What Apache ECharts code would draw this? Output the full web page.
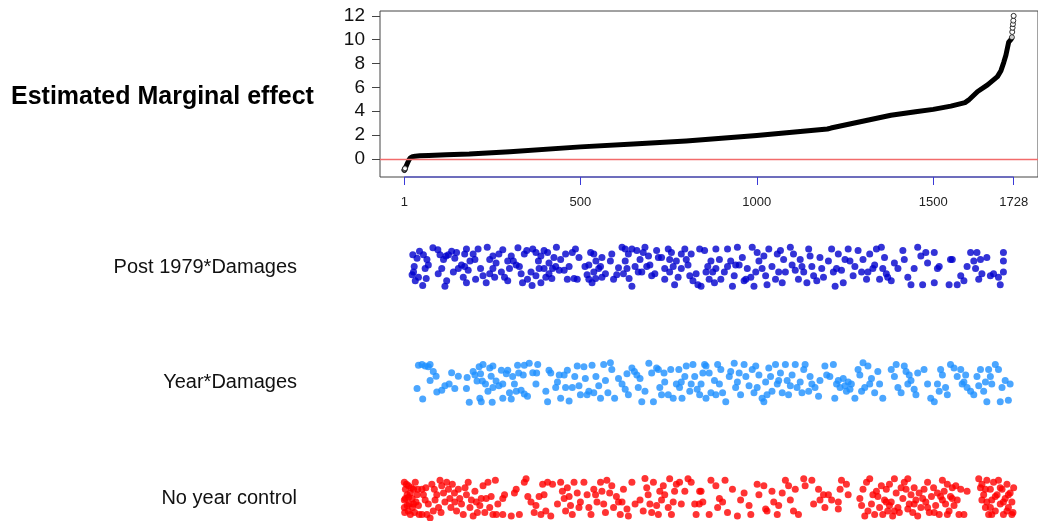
<!DOCTYPE html>
<html>
<head>
<meta charset="utf-8">
<script src="https://cdn.jsdelivr.net/npm/echarts@6/dist/echarts.min.js"></script>
<style>
  html, body { margin: 0; padding: 0; background: #fff; }
  #chart { width: 1038px; height: 521px; }
</style>
</head>
<body>
<div id="chart"></div>
<script>
  // sorted estimates (rank -> estimate)
  var curveRank = [1, 3, 6, 10, 14, 18, 24, 32, 45, 70, 120, 185, 300, 500, 650, 800, 900, 1000, 1100, 1200, 1210, 1300, 1380, 1450, 1500, 1550, 1590, 1600, 1626, 1654, 1682, 1692, 1700, 1706, 1714, 1720, 1722];
  var curveValue = [-0.95, -0.82, -0.62, -0.35, -0.1, 0.08, 0.18, 0.22, 0.25, 0.28, 0.33, 0.4, 0.6, 1.0, 1.25, 1.5, 1.72, 1.96, 2.22, 2.5, 2.58, 3.15, 3.65, 3.95, 4.15, 4.42, 4.72, 4.92, 5.65, 6.2, 6.9, 7.4, 8.1, 8.7, 9.8, 10.0, 10.1];
  // separate circles at both ends
  var endRank = [1, 2, 3, 1723, 1724, 1725, 1726, 1727, 1728];
  var endValue = [-0.95, -0.88, -0.8, 10.2, 10.65, 11.0, 11.3, 11.6, 12.0];

  var xTicks = [1, 500, 1000, 1500, 1728];
  var yTicks = [0, 2, 4, 6, 8, 10, 12];
  var rowNames = ['No year control', 'Year*Damages', 'Post 1979*Damages'];
  var rowColors = ['#ff0000', '#1e90ff', '#0000cd'];

  // [rank, jitter(-5..5)] for each indicator row
  var postDots = [
    [25,3.1],[37,2.2],[44,4.0],[29,0.1],[23,-2.0],[32,-3.5],[41,-2.6],[53,-4.7],[60,-0.4],[65,1.9],[69,0.5],[63,-2.9],[82,4.9],[96,4.4],[102,3.1],[112,1.9],[119,2.8],[97,-1.7],[107,-0.4],[116,-4.9],[121,-3.5],[126,3.1],[135,4.0],[144,2.2],[149,3.7],[140,-1.3],[154,-0.4],[163,0.5],[172,0.1],[168,-2.6],[177,-4.0],[177,4.6],[187,1.5],[196,3.3],[201,1.9],[210,4.6],[203,-3.1],[217,-0.4],[224,-2.2],[236,5.0],[243,1.9],[233,-4.0],[243,-1.7],[252,-0.4],[261,1.0],[269,3.3],[257,-2.6],[276,-1.3],[285,-2.6],[294,-3.5],[299,-0.4],[280,4.4],[304,2.8],[310,1.5],[318,0.5],[323,4.9],[332,-1.7],[336,-4.0],[341,3.3],[348,4.2],[360,-1.3],[350,-3.1],[365,4.6],[374,3.7],[381,1.5],[388,2.8],[397,4.2],[407,3.7],[411,1.0],[421,-0.4],[430,0.1],[432,5.0],[419,-2.9],[402,-2.6],[388,-4.0],[374,-2.2],[363,-4.7],[440,-0.8],[444,1.9],[458,3.3],[468,0.1],[477,3.7],[486,4.6],[491,-3.1],[482,-2.9],[463,-3.1],[454,-0.8],[496,2.4],[513,0.1],[519,-2.0],[529,3.7],[538,3.3],[544,1.5],[552,-0.4],[557,0.1],[561,2.4],[533,-4.0],[524,-3.1],[543,-2.9],[571,-1.7],[585,1.5],[589,3.3],[594,-3.1],[603,-2.0],[608,-0.2],[618,5.0],[627,4.6],[622,-1.7],[638,-2.9],[646,-4.9],[636,3.3],[646,4.6],[660,4.2],[669,1.9],[678,3.7],[683,5.0],[693,2.8],[688,0.1],[664,-1.3],[702,-2.2],[711,-1.7],[716,4.2],[730,2.4],[739,-0.4],[749,4.6],[758,3.7],[753,-1.3],[763,0.1],[772,1.5],[777,-2.6],[767,-4.5],[786,3.3],[796,4.6],[800,1.9],[805,0.5],[810,-2.2],[819,-3.5],[828,-1.7],[838,4.6],[852,4.2],[842,-4.9],[856,-1.3],
    [27,-1.3],[55,3.1],[172,3.3],[182,-0.8],[252,2.8],[294,1.5],[327,0.1],[383,-0.4],[397,-0.4],[411,-1.7],[425,2.4],[524,0.5],[538,-1.3],[561,-2.6],[627,1.5],[632,-0.4],[655,0.1],[674,-1.3],[697,0.5],[721,2.4],[739,-3.1],[753,1.9],[786,-0.4],[814,3.3],[833,-4.5],
    [861,0.1],[870,1.5],[875,-1.3],[865,-3.1],[880,-4.0],[884,4.6],[894,1.9],[898,-3.1],[908,-1.3],[917,4.6],[917,0.1],[926,1.5],[931,-4.9],[936,-2.2],[945,5.0],[950,0.5],[959,2.4],[964,-3.5],[973,-0.4],[983,-2.6],[987,5.0],[992,-4.9],[1001,3.7],[1006,1.5],[1015,-0.4],[1025,-2.2],[1029,-4.5],[1034,4.6],[1043,0.1],[1053,-3.1],[1058,3.3],[1067,4.2],[1076,1.9],[1081,-1.3],[1095,5.0],[1100,0.5],[1109,-0.8],[1118,-3.1],[1123,1.9],[1133,-1.3],[1142,-4.0],[1147,4.6],[1151,2.8],[1161,-2.2],[1170,-3.5],[1179,2.4],[1184,-0.4],[1189,-2.6],[1212,4.6],[1217,-1.3],[1222,-4.9],[1231,3.3],[1240,-0.8],[1245,-4.0],[1259,4.6],[1264,1.5],[1273,-2.2],[1287,4.2],[1297,-1.3],[1301,1.9],[1311,-3.1],[1320,3.3],[1329,-0.4],[1339,4.6],[1348,-3.1],[1353,5.0],[1362,2.4],[1367,-1.7],[1381,-3.5],[1390,1.0],[1400,-0.4],[1414,4.2],[1418,1.9],[1428,-2.6],[1437,-4.5],[1446,-0.4],[1456,5.0],[1465,2.8],[1470,-4.5],[1479,3.7],[1484,1.0],[1503,3.7],[1512,-0.4],[1517,0.1],[1503,-4.0],[1545,-4.5],[1549,1.9],[1554,1.9],[1568,-4.5],[1578,-2.2],[1587,-3.5],[1596,0.1],[1606,3.7],[1615,1.5],[1620,-0.4],[1624,3.7],[1629,-3.1],[1634,1.9],[1638,-1.7],[1652,2.4],[1662,-2.2],[1671,-1.7],[1685,-2.6],[1690,-4.5],[1699,3.7],[1699,1.5],[1699,-1.3],
    [884,-0.4],[940,0.5],[969,-3.1],[997,-1.3],[1020,2.8],[1062,-1.3],[1072,-4.0],[1104,3.3],[1128,0.1],[1156,0.1],[1203,1.5],[1226,-0.4],[1250,1.9],[1278,0.1],[1315,-1.3],[1334,0.5],[1357,-0.4],[1371,-2.6]
  ];
  var yearDots = [
    [41,4.4],[51,4.6],[60,4.2],[69,4.0],[74,4.6],[83,2.8],[91,1.6],[74,0.5],[37,-1.5],[53,-4.2],[93,-2.4],[107,-2.0],[116,-0.8],[128,-0.4],[135,2.5],[144,-1.5],[154,1.6],[179,1.3],[177,-1.5],[185,-5.0],[196,2.8],[201,1.9],[207,0.4],[213,4.0],[217,2.2],[224,4.6],[222,0.4],[231,-0.4],[238,-2.2],[243,3.7],[252,4.2],[247,1.6],[215,-4.0],[219,-4.9],[250,-5.0],[261,0.4],[269,-0.8],[276,3.1],[280,-4.0],[290,2.2],[294,3.1],[299,-2.6],[304,-4.2],[308,1.5],[313,-0.4],[322,4.4],[325,2.4],[332,-2.0],[338,1.9],[341,4.4],[355,4.9],[365,2.5],[374,-0.4],[379,4.6],[376,2.4],[350,-3.5],[341,-2.9],[402,-2.2],[411,3.1],[416,2.4],[407,-4.9],[430,-1.3],[435,0.1],[444,-4.0],[454,1.9],[458,-1.3],[463,3.1],[468,-4.7],[484,1.5],[491,4.2],[496,-0.8],[500,-3.1],[510,4.0],[514,1.0],[519,-3.1],[524,-2.2],[533,4.4],[544,1.5],[552,-0.8],[557,-4.0],[566,4.6],[571,0.5],[578,-2.6],[585,5.0],[589,3.3],[597,-4.0],[608,1.0],[618,-0.4],[632,2.2],[636,-3.1],[646,3.7],[653,2.8],[660,1.9],[669,1.0],[674,-4.9],[683,-2.2],[694,4.9],[702,2.4],[707,-4.9],[716,3.7],[721,3.3],[725,-1.3],[730,-3.1],[737,2.4],[749,-3.1],[756,3.3],[763,-4.0],[772,-0.4],[781,-1.3],[779,3.3],[788,-4.0],[796,1.5],[800,4.2],[810,-2.2],[819,4.6],[824,1.5],[831,-1.7],[838,-3.1],[847,2.4],[852,4.6],[856,-4.0],
    [252,-1.3],[280,-0.4],[318,-2.2],[440,1.9],[477,-1.3],[538,-2.6],[627,-1.7],[664,-1.3],[739,0.1],[786,0.1],[814,-0.4],[842,-0.4],
    [856,4.2],[865,2.4],[870,-2.6],[880,0.5],[889,4.6],[894,-0.4],[898,3.3],[903,-2.6],[912,-4.9],[922,1.5],[926,2.8],[936,4.9],[940,-1.3],[945,0.1],[954,-3.1],[964,4.6],[969,1.5],[978,-0.8],[987,3.3],[992,-2.6],[997,4.2],[1006,1.9],[1015,-4.0],[1020,-4.9],[1025,0.1],[1034,3.7],[1039,1.5],[1043,-2.2],[1053,4.6],[1058,-0.4],[1067,2.4],[1072,-2.6],[1081,4.6],[1086,0.5],[1090,-3.1],[1100,1.9],[1109,4.6],[1114,-1.3],[1123,0.1],[1133,3.3],[1137,4.6],[1147,-2.2],[1156,-0.4],[1165,-1.3],[1175,-3.5],[1179,0.5],[1193,4.2],[1198,1.9],[1207,1.5],[1217,4.6],[1221,-4.0],[1226,-0.4],[1236,-1.3],[1245,1.0],[1254,-2.2],[1259,0.1],[1268,-0.4],[1278,-4.0],[1287,3.3],[1292,1.9],[1301,5.0],[1306,-1.3],[1315,4.2],[1325,1.0],[1334,-2.6],[1343,2.8],[1348,-0.4],[1357,-4.0],[1381,3.3],[1390,1.5],[1395,4.6],[1400,-1.3],[1409,-2.6],[1418,4.2],[1423,2.8],[1428,-0.4],[1437,0.5],[1446,-1.7],[1451,-3.1],[1456,2.4],[1474,3.3],[1484,-0.4],[1493,-4.0],[1503,-4.9],[1512,-0.4],[1521,3.3],[1526,1.9],[1535,-1.3],[1540,-3.1],[1549,4.6],[1559,3.7],[1568,1.5],[1578,3.3],[1582,-0.4],[1592,1.9],[1596,-1.3],[1606,-2.2],[1615,-3.1],[1629,-0.8],[1634,3.3],[1643,-2.2],[1652,-4.9],[1657,3.3],[1662,1.5],[1666,-0.4],[1676,4.6],[1685,3.3],[1690,-4.9],[1695,-1.3],[1704,0.5],[1713,-4.5],[1718,-0.4],
    [884,-3.1],[950,2.4],[1001,-1.3],[1029,-3.1],[1062,0.5],[1095,-0.8],[1128,-2.6],[1151,1.5],[1231,0.5],[1250,-0.8],[1264,-1.7],[1297,-2.2],[1320,-0.4],[1432,1.9],[1517,-2.2],[1587,0.1],[1624,1.5],[1648,0.1]
  ];
  var noYearDots = [
    [1,4.0],[4,2.2],[1,-0.5],[2,-3.7],[9,0.8],[13,3.1],[15,-1.5],[18,1.3],[23,-0.1],[24,-2.4],[27,2.2],[32,4.0],[34,-1.0],[37,0.8],[41,-1.9],[18,-4.2],[9,-1.9],[30,-3.7],[51,2.2],[55,0.8],[60,-0.5],[65,-4.2],[69,-1.5],[74,-5.1],[79,3.5],[86,2.2],[88,-0.5],[93,0.8],[98,-2.4],[102,4.5],[107,3.1],[112,1.3],[116,-1.0],[121,4.0],[126,2.2],[130,-0.1],[133,-2.4],[137,3.5],[143,1.3],[149,-3.3],[154,2.2],[158,-0.1],[163,-1.5],[168,-4.2],[177,0.8],[182,4.0],[187,-2.4],[191,-0.5],[196,-4.6],[201,1.7],[208,-3.7],[215,-1.9],[219,-0.1],[224,3.1],[229,-3.7],[238,4.0],[243,-2.4],[247,0.4],[252,-4.2],[259,4.5],[266,-1.5],[280,-0.1],[285,0.8],[280,-4.2],[304,-4.6],[313,1.3],[318,2.2],[327,-4.2],[341,4.0],[346,4.9],[351,0.4],[360,-1.0],[374,-1.9],[383,0.4],[388,-4.2],[393,3.5],[397,0.8],[402,-3.3],[407,4.0],[416,-4.6],[421,3.5],[435,-1.5],[444,4.0],[449,1.7],[454,-0.1],[463,2.6],[468,0.4],[472,-1.9],[477,-4.2],[482,4.0],[491,1.3],[500,-1.0],[510,4.0],[519,0.8],[524,-2.4],[530,-4.2],[538,2.2],[547,-1.0],[557,4.0],[561,1.7],[566,-1.5],[575,4.5],[583,1.3],[589,3.1],[594,-2.4],[602,0.4],[608,-1.0],[613,-4.2],[622,2.2],[632,-2.8],[636,-4.6],[646,4.0],[655,-1.5],[669,-0.5],[683,5.0],[688,2.6],[692,0.8],[697,-1.5],[702,-3.7],[707,4.0],[716,-1.9],[721,-4.2],[730,-0.5],[735,3.1],[739,0.8],[749,-2.4],[753,4.9],[758,-4.2],[767,1.7],[772,3.5],[781,4.0],[786,-1.5],[796,1.7],[805,4.9],[814,4.0],[824,-1.5],[828,-4.2],[838,1.7],[847,-1.0],
    [7,3.5],[12,-3.3],[21,2.6],[27,-1.5],[39,2.2],[43,-4.2],[4,-0.1],[13,0.2],[1,-2.4],[51,-4.2],[62,2.6],[83,-3.3],[105,-3.7],[144,-1.0],[173,2.6],[205,-1.0],[233,-0.1],[262,-4.2],[369,-3.7],[458,-3.3],[496,-2.4],[543,0.8],[571,-3.7],[618,-1.0],[678,-3.3],[725,1.7],[763,-1.0],
    [842,1.7],[837,-1.5],[865,-4.2],[870,4.5],[884,3.1],[894,-0.1],[889,-2.4],[903,-1.0],[910,4.5],[917,-3.7],[931,2.2],[945,-4.6],[954,-0.5],[964,1.3],[978,-1.9],[983,-4.2],[1001,3.5],[1006,0.8],[1020,3.1],[1025,-2.8],[1029,-3.3],[1043,1.7],[1048,-1.0],[1058,-4.2],[1062,-1.9],[1072,1.3],[1081,4.5],[1090,3.1],[1095,-0.5],[1104,-3.3],[1109,2.2],[1118,-4.2],[1133,4.9],[1137,3.1],[1156,4.5],[1161,-1.5],[1175,2.2],[1179,-0.5],[1189,0.8],[1193,-2.4],[1203,0.8],[1212,-0.5],[1231,-1.0],[1236,2.2],[1240,4.5],[1254,3.5],[1259,0.8],[1231,-2.8],
    [1292,-0.1],[1297,-1.9],[1306,-4.6],[1311,4.0],[1320,4.9],[1325,-1.5],[1334,-4.2],[1339,1.7],[1343,0.4],[1348,-2.4],[1353,3.1],[1357,-4.2],[1362,-0.5],[1367,2.2],[1371,-3.3],[1376,3.5],[1381,-1.0],[1385,-4.6],[1390,4.9],[1395,1.3],[1400,-2.4],[1404,-3.7],[1414,-0.1],[1418,4.0],[1423,2.2],[1428,4.9],[1432,-1.5],[1437,0.8],[1442,-3.7],[1446,2.6],[1451,-0.5],[1456,-4.6],[1460,1.3],[1465,-2.4],[1474,2.2],[1479,-1.0],[1484,4.0],[1489,-3.7],[1495,0.4],[1501,2.6],[1507,-1.9],[1517,-4.2],[1521,0.4],[1526,4.5],[1531,1.7],[1535,-1.5],[1540,3.5],[1545,-3.3],[1549,0.4],[1554,2.6],[1559,-1.9],[1568,-0.5],[1573,-4.2],[1578,2.2],[1587,-4.2],[1596,1.7],[1629,4.9],[1634,2.6],[1638,-0.5],[1643,0.8],[1648,-2.4],[1652,4.5],[1657,-4.2],[1662,2.2],[1666,-0.5],[1671,4.0],[1676,-3.3],[1681,0.8],[1685,4.5],[1690,-1.5],[1695,2.2],[1699,-4.2],[1704,-0.1],[1709,3.5],[1713,-2.4],[1718,1.3],[1723,-1.0],[1726,-3.7],[1728,2.6],
    [1301,2.2],[1315,-3.3],[1329,0.8],[1367,-1.0],[1376,-1.9],[1390,-3.3],[1409,2.6],[1428,-2.8],[1446,-1.5],[1470,-0.1],[1484,-2.4],[1503,-3.7],[1512,1.3],[1526,-0.5],[1540,-4.2],[1554,-0.1],[1564,3.1],[1638,3.5],[1652,-1.0],[1666,-4.2],[1676,0.4],[1690,2.6],[1699,-1.0],[1713,0.8],[1723,-4.2],[1648,2.2],[1662,-2.4],[1709,-3.3]
  ];

  var yMin = -1.53, yMax = 12.41;
  var xMin = -68, xMax = 1797;
  var font = '"Liberation Sans", Arial, sans-serif';

  function pairs(xs, ys) {
    return xs.map(function (x, i) { return [x, ys[i]]; });
  }
  function rowData(dots, row) {
    return dots.map(function (d) { return [d[0], row + d[1] * 0.034]; });
  }

  var option = {
    animation: false,
    backgroundColor: '#fff',
    title: {
      text: 'Estimated Marginal effect',
      left: 6, top: 80,
      textStyle: { fontFamily: font, fontSize: 25, fontWeight: 'bold', color: '#000' }
    },
    grid: [
      { left: 380, top: 11, width: 664, height: 166, show: true, borderColor: '#444', borderWidth: 1 },
      { left: 380, top: 209.25, width: 664, bottom: 0 }
    ],
    xAxis: [
      {
        gridIndex: 0, type: 'value', min: xMin, max: xMax,
        axisLine: { show: false, onZero: false },
        splitLine: { show: false },
        axisTick: { show: true, length: 8, customValues: xTicks, lineStyle: { color: '#3a3ad8' } },
        axisLabel: {
          customValues: xTicks, margin: 19, fontFamily: font, fontSize: 13, color: '#222',
          formatter: function (v) { return String(v); }
        }
      },
      { gridIndex: 1, type: 'value', min: xMin, max: xMax, show: false }
    ],
    yAxis: [
      {
        gridIndex: 0, type: 'value', min: yMin, max: yMax,
        axisLine: { show: false, onZero: false },
        splitLine: { show: false },
        axisTick: { show: true, length: 8, customValues: yTicks, lineStyle: { color: '#444' } },
        axisLabel: { customValues: yTicks, margin: 15, fontFamily: font, fontSize: 19, color: '#111' }
      },
      {
        // 115.5 px per row, grid runs to the bottom of the page
        gridIndex: 1, type: 'value', min: 0.801, max: 3.5,
        axisLine: { show: false, onZero: false }, axisTick: { show: false }, splitLine: { show: false },
        axisLabel: {
          customValues: [1, 2, 3], margin: 83, fontFamily: font, fontSize: 20, color: '#111',
          formatter: function (v) { return rowNames[Math.round(v) - 1]; }
        }
      }
    ],
    series: [
      {
        type: 'line', xAxisIndex: 0, yAxisIndex: 0,
        data: pairs(curveRank, curveValue),
        showSymbol: false, smooth: false,
        lineStyle: { color: '#000', width: 5, cap: 'round', join: 'round' },
        z: 3,
        markLine: {
          silent: true, symbol: 'none', label: { show: false },
          lineStyle: { color: '#f26b6b', width: 1.3, type: 'solid' },
          data: [{ yAxis: 0 }]
        }
      },
      {
        type: 'scatter', xAxisIndex: 0, yAxisIndex: 0,
        data: pairs(endRank, endValue),
        symbol: 'circle', symbolSize: 5,
        itemStyle: { color: '#fff', borderColor: '#000', borderWidth: 1 },
        z: 4
      },
      {
        // axis line, drawn from first to last tick only
        type: 'line', xAxisIndex: 0, yAxisIndex: 0, clip: false,
        data: [[xTicks[0], yMin], [xTicks[xTicks.length - 1], yMin]],
        showSymbol: false,
        lineStyle: { color: '#3a3ad8', width: 1 },
        z: 5
      },
      {
        type: 'scatter', xAxisIndex: 1, yAxisIndex: 1,
        data: rowData(postDots, 3), symbolSize: 7,
        itemStyle: { color: rowColors[2] }
      },
      {
        type: 'scatter', xAxisIndex: 1, yAxisIndex: 1,
        data: rowData(yearDots, 2), symbolSize: 7,
        itemStyle: { color: rowColors[1] }
      },
      {
        type: 'scatter', xAxisIndex: 1, yAxisIndex: 1,
        data: rowData(noYearDots, 1), symbolSize: 7,
        itemStyle: { color: rowColors[0] }
      }
    ]
  };

  echarts.init(document.getElementById('chart')).setOption(option);
</script>
</body>
</html>
